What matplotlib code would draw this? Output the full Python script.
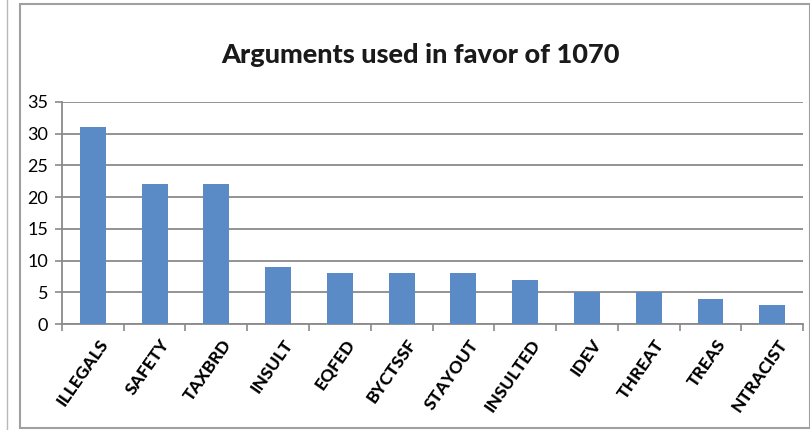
# coding=utf-8
"""
Argumentos usados a favor de 1070
"""

import matplotlib
matplotlib.use('Agg')
import matplotlib.pyplot as plt
from matplotlib.lines import Line2D
from matplotlib.patches import Rectangle

# Datos
categorias = ['ILLEGALS', 'SAFETY', 'TAXBRD', 'INSULT', 'EQFED', 'BYCTSSF',
              'STAYOUT', 'INSULTED', 'IDEV', 'THREAT', 'TREAS', 'NTRACIST']
valores = [31, 22, 22, 9, 8, 8, 8, 7, 5, 5, 4, 3]
yticks = [0, 5, 10, 15, 20, 25, 30, 35]

GRIS = '#8a8a8a'
AZUL = '#5b8bc6'
FUENTE = ['Lato', 'DejaVu Sans']

plt.rcParams['font.family'] = FUENTE

fig = plt.figure(figsize=(8.1, 4.3), dpi=100)
ax = fig.add_axes([0.0765, 0.2465, 0.915, 0.5165])

# Barras
x = list(range(len(categorias)))
ax.bar(x, valores, width=0.42, color=AZUL, zorder=3)

ax.set_xlim(-0.5, len(categorias) - 0.5)
ax.set_ylim(0, 35)
ax.set_yticks(yticks)
ax.set_yticklabels([str(t) for t in yticks], fontsize=13)
ax.yaxis.grid(True, color=GRIS, linewidth=1.3, zorder=0)

# Marcas del eje x en los bordes de categoria
ax.set_xticks([i - 0.5 for i in range(len(categorias) + 1)])
ax.set_xticklabels([])
ax.set_xticks([i + 0.08 for i in x], minor=True)
ax.set_xticklabels(categorias, minor=True, rotation=55, ha='right',
                   va='top', rotation_mode='anchor', fontsize=12.5,
                   fontweight='black')
ax.tick_params(axis='x', which='minor', length=0, pad=9)
ax.tick_params(axis='x', which='major', length=5, color=GRIS, width=1.2)
ax.tick_params(axis='y', length=5, color=GRIS, width=1.2, pad=5)

for lado in ['top', 'right']:
    ax.spines[lado].set_visible(False)
for lado in ['left', 'bottom']:
    ax.spines[lado].set_color(GRIS)
    ax.spines[lado].set_linewidth(1.3)

# Titulo
fig.text(0.519, 0.873, 'Arguments used in favor of 1070', ha='center',
         va='center', fontsize=19.5, fontweight='black', color='#1a1a1a')

# Marco exterior
fig.add_artist(Rectangle((20 / 810, 2 / 430), 790 / 810, 1 - 6 / 430,
                         transform=fig.transFigure, fill=False,
                         edgecolor='#a0a0a0', linewidth=1.5))
fig.add_artist(Line2D([7 / 810, 7 / 810], [0, 1], transform=fig.transFigure,
                      color='#b8b8b8', linewidth=1.0))

fig.savefig('out.png', dpi=100)
